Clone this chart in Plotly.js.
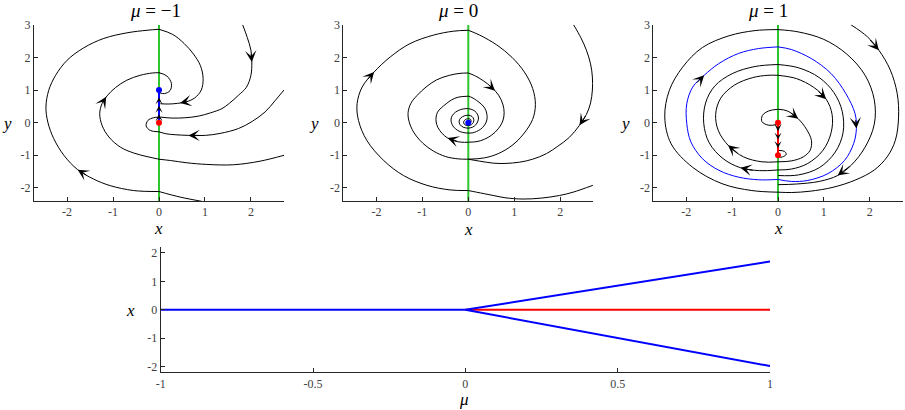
<!DOCTYPE html>
<html>
<head>
<meta charset="utf-8">
<script src="https://cdn.plot.ly/plotly-3.0.1.min.js"></script>
<style>
  html, body { margin: 0; padding: 0; background: #fff; }
  #chart { width: 905px; height: 410px; }
</style>
</head>
<body>
<div id="chart"></div>
<script>
// Phase portraits of the switched system for mu = -1, 0, 1 and the bifurcation diagram.
// Each arc is one piece of an orbit between two hits of the switching line x = 0.

// ---- mu = -1 ----
const m1OuterIn  = [[0.93,-2.41],[0.46,-2.28],[0,-2.11]];
const m1OuterL   = [[0,-2.11],[-0.55,-2.08],[-1.06,-1.93],[-1.42,-1.73],[-1.77,-1.44],[-2.07,-1.0],[-2.29,-0.49],[-2.42,0.02],[-2.46,0.48],[-2.40,0.99],[-2.25,1.45],[-2.0,1.91],[-1.64,2.29],[-1.20,2.58],[-0.70,2.75],[-0.26,2.83],[0,2.86]];
const m1OuterR   = [[0,2.86],[0.3,2.7],[0.55,2.42],[0.75,2.1],[0.9,1.75],[0.96,1.35],[0.92,1.0],[0.78,0.76],[0.6,0.64],[0.4,0.59],[0.2,0.57],[0.03,0.58]];
const m1MidIn    = [[2.72,-1.0],[2.20,-1.18],[1.62,-1.29],[1.04,-1.28],[0.61,-1.23],[0.25,-1.16],[0,-1.12]];
const m1MidL     = [[0,-1.12],[-0.26,-1.04],[-0.55,-0.93],[-0.84,-0.75],[-1.09,-0.44],[-1.24,-0.08],[-1.29,0.28],[-1.24,0.58],[-1.13,0.82],[-0.95,1.07],[-0.70,1.30],[-0.41,1.45],[-0.15,1.52],[0,1.53]];
const m1MidR     = [[0,1.53],[0.17,1.43],[0.27,1.2],[0.24,0.98],[0.12,0.89],[0.02,0.91]];
const m1TopIn    = [[1.82,3.0],[1.92,2.61],[2.0,2.22],[2.02,1.86],[2.0,1.45],[1.90,1.08],[1.73,0.84],[1.53,0.59],[1.37,0.43],[1.12,0.30],[0.86,0.20],[0.57,0.15],[0.28,0.14],[0.03,0.17]];
const m1SideIn   = [[2.72,1.0],[2.53,0.68],[2.31,0.33],[2.03,0.04],[1.73,-0.18],[1.33,-0.33],[1.01,-0.39],[0.64,-0.39],[0.35,-0.37],[0.15,-0.34],[0,-0.28]];
const m1SideL    = [[0,-0.28],[-0.19,-0.24],[-0.28,-0.1],[-0.24,0.07],[-0.12,0.15],[0,0.17]];
const m1Slide    = [[0,0],[0,1]];
const m1Arrows   = [
  [[-1.77,-1.44],[-1.55,-1.63]], [[0.46,0.60],[0.66,0.66]], [[-1.15,0.79],[-1.24,0.58]],
  [[2.02,1.86],[2.0,2.15]], [[0.64,-0.39],[0.9,-0.39]]
];
const m1SlideArrows = [[[0,0.26],[0,0.13]], [[0,0.52],[0,0.39]], [[0,0.78],[0,0.65]]];

// ---- mu = 0 ----
const m0TopIn = [[2.29,3.0],[2.45,2.6],[2.57,2.22],[2.66,1.8],[2.70,1.40],[2.70,1.0],[2.66,0.6],[2.57,0.25],[2.42,-0.08],[2.2,-0.45],[1.95,-0.72],[1.70,-0.95],[1.4,-1.12],[1.12,-1.21],[0.8,-1.25],[0.54,-1.24],[0.25,-1.18],[0,-1.12]];
const m0BotIn = [[2.71,-1.92],[2.28,-2.13],[1.99,-2.23],[1.6,-2.31],[1.19,-2.34],[0.8,-2.3],[0.54,-2.23],[0.18,-2.13],[0,-2.08]];
const m0L1 = [[0,-2.08],[-0.40,-2.06],[-0.90,-1.92],[-1.41,-1.62],[-1.84,-1.16],[-2.21,-0.54],[-2.39,0.07],[-2.42,0.58],[-2.31,1.09],[-2.05,1.55],[-1.70,2.01],[-1.27,2.42],[-0.76,2.68],[-0.33,2.80],[0,2.83]];
const m0R1 = [[0,2.83],[0.25,2.68],[0.62,2.38],[0.95,2.0],[1.22,1.55],[1.40,1.05],[1.46,0.55],[1.40,0.1],[1.2,-0.35],[0.95,-0.7],[0.65,-0.95],[0.35,-1.08],[0,-1.12]];
const m0L2 = [[0,-1.12],[-0.22,-1.11],[-0.49,-1.04],[-0.76,-0.87],[-0.99,-0.63],[-1.19,-0.29],[-1.29,0.04],[-1.31,0.31],[-1.25,0.59],[-1.11,0.84],[-0.92,1.09],[-0.69,1.31],[-0.41,1.45],[-0.18,1.51],[0,1.52]];
const m0R2 = [[0,1.52],[0.14,1.44],[0.33,1.28],[0.51,1.08],[0.66,0.84],[0.75,0.57],[0.78,0.3],[0.75,0.05],[0.65,-0.19],[0.51,-0.38],[0.35,-0.51],[0.19,-0.58],[0,-0.60]];
const m0L3 = [[0,-0.6],[-0.14,-0.6],[-0.3,-0.56],[-0.45,-0.47],[-0.57,-0.33],[-0.66,-0.15],[-0.70,0.02],[-0.70,0.17],[-0.67,0.32],[-0.59,0.45],[-0.48,0.58],[-0.36,0.7],[-0.22,0.78],[0,0.81]];
const m0R3 = [[0,0.81],[0.08,0.77],[0.18,0.68],[0.28,0.57],[0.36,0.44],[0.40,0.29],[0.41,0.15],[0.39,0.02],[0.34,-0.1],[0.27,-0.2],[0.18,-0.27],[0.1,-0.31],[0,-0.32]];
const m0L4 = [[0,-0.32],[-0.12,-0.3],[-0.23,-0.24],[-0.32,-0.13],[-0.37,0.01],[-0.37,0.15],[-0.32,0.27],[-0.22,0.37],[-0.11,0.42],[0,0.43]];
const m0R4 = [[0,0.43],[0.1,0.39],[0.18,0.3],[0.22,0.17],[0.21,0.05],[0.16,-0.07],[0.09,-0.14],[0,-0.17]];
const m0L5 = [[0,-0.17],[-0.11,-0.14],[-0.18,-0.06],[-0.20,0.05],[-0.16,0.15],[-0.08,0.21],[0,0.23]];
const m0R5 = [[0,0.23],[0.08,0.19],[0.12,0.1],[0.11,0.01],[0.07,-0.06],[0,-0.09]];
const m0L6 = [[0,-0.09],[-0.07,-0.07],[-0.1,-0.01],[-0.09,0.06],[-0.04,0.11],[0,0.12]];
const m0R6 = [[0,0.12],[0.05,0.1],[0.06,0.04],[0.04,-0.02],[0,-0.04]];
const m0Arrows = [
  [[-2.05,1.55],[-2.22,1.28]], [[0.58,0.98],[0.43,1.18]], [[2.42,-0.08],[2.57,0.25]], [[-0.45,-0.47],[-0.22,-0.58]]
];

// ---- mu = 1 ----
const m3CycleL = [[0,-1.74],[-0.42,-1.75],[-0.86,-1.67],[-1.29,-1.46],[-1.65,-1.10],[-1.90,-0.59],[-1.99,-0.03],[-1.99,0.58],[-1.86,1.09],[-1.61,1.45],[-1.29,1.81],[-0.86,2.12],[-0.42,2.27],[0,2.32]];
const m3CycleR = [[0,2.32],[0.29,2.24],[0.73,1.96],[1.16,1.50],[1.48,0.89],[1.68,0.28],[1.71,-0.18],[1.65,-0.64],[1.45,-1.16],[1.09,-1.56],[0.65,-1.77],[0.29,-1.80],[0,-1.74]];
const m3TopIn  = [[1.59,3.0],[1.95,2.63],[2.20,2.22],[2.45,1.61],[2.60,0.89],[2.63,0.17],[2.56,-0.54],[2.38,-1.05],[2.1,-1.45],[1.7,-1.75],[1.2,-1.98],[0.7,-2.1],[0.3,-2.14],[0,-2.13]];
const m3OuterL = [[0,-2.13],[-0.57,-2.08],[-1.22,-1.87],[-1.86,-1.37],[-2.33,-0.65],[-2.47,0.17],[-2.37,0.99],[-2.08,1.70],[-1.65,2.30],[-1.07,2.66],[-0.5,2.82],[0,2.85]];
const m3OuterR = [[0,2.85],[0.44,2.78],[1.0,2.55],[1.5,2.1],[1.9,1.45],[2.1,0.7],[2.1,-0.05],[1.9,-0.75],[1.6,-1.3],[1.3,-1.62],[0.9,-1.8],[0.4,-1.88],[0,-1.9]];
const m3In1 = [[0,-0.05],[-0.2,-0.08],[-0.35,0.03],[-0.34,0.22],[-0.2,0.36],[0,0.41]];
const m3In2 = [[0,0.41],[0.2,0.36],[0.44,0.12],[0.62,-0.2],[0.73,-0.55],[0.7,-0.85],[0.55,-1.05],[0.3,-1.17],[0,-1.2]];
const m3In3 = [[0,-1.2],[-0.35,-1.2],[-0.75,-1.05],[-1.07,-0.72],[-1.3,-0.25],[-1.36,0.25],[-1.25,0.75],[-0.95,1.15],[-0.55,1.38],[-0.22,1.45],[0,1.45]];
const m3In4 = [[0,1.45],[0.4,1.35],[0.78,1.08],[1.05,0.72],[1.18,0.25],[1.16,-0.3],[0.98,-0.85],[0.65,-1.25],[0.3,-1.42],[0,-1.45]];
const m3In5 = [[0,-1.45],[-0.4,-1.47],[-0.82,-1.38],[-1.2,-1.1],[-1.5,-0.62],[-1.62,-0.02],[-1.58,0.6],[-1.38,1.12],[-1.0,1.5],[-0.5,1.72],[0,1.78]];
const m3In6 = [[0,1.78],[0.45,1.68],[0.9,1.38],[1.22,0.92],[1.4,0.35],[1.42,-0.3],[1.25,-0.9],[0.9,-1.38],[0.45,-1.6],[0,-1.62]];
const m3Hook = [[0,-0.85],[0.14,-0.88],[0.18,-0.97],[0.1,-1.05],[0,-1.06]];
const m3Slide = [[0,0],[0,-1]];
const m3Arrows = [
  [[2.20,2.22],[1.98,2.58]], [[-1.61,1.45],[-1.80,1.18]], [[1.71,-0.18],[1.69,0.12]],
  [[0.44,0.12],[0.25,0.33]], [[1.05,0.72],[0.85,1.0]], [[-0.82,-1.38],[-0.52,-1.47]],
  [[-1.09,-0.69],[-0.85,-0.97]], [[1.3,-1.62],[1.6,-1.3]]
];
const m3SlideArrows = [[[0,-0.26],[0,-0.13]], [[0,-0.52],[0,-0.39]], [[0,-0.78],[0,-0.65]]];

// ---- bifurcation diagram ----
const muLeft   = [-1, 0];
const xLeft    = [0, 0];
const muRight  = [0, 1];
const xMiddle  = [0, 0];
const xUpper   = [0, 1.70];
const xLower   = [0, -1.98];

const GREEN = '#2ec52e', BLUE = '#0000ff', RED = '#ff0000';
const SERIF = 'Liberation Serif';

const traces = [];
function arc(pts, n, color, width) {
  traces.push({
    x: pts.map(p => p[0]), y: pts.map(p => p[1]),
    xaxis: 'x' + (n === 1 ? '' : n), yaxis: 'y' + (n === 1 ? '' : n),
    type: 'scatter', mode: 'lines',
    line: { color: color || '#000', width: width || 1, shape: 'spline', smoothing: 1 },
    hoverinfo: 'skip', showlegend: false
  });
}
function dots(pts, n, color) {
  traces.push({
    x: pts.map(p => p[0]), y: pts.map(p => p[1]),
    xaxis: 'x' + (n === 1 ? '' : n), yaxis: 'y' + (n === 1 ? '' : n),
    type: 'scatter', mode: 'markers',
    marker: { color: color, size: 6 },
    hoverinfo: 'skip', showlegend: false
  });
}
function switchLine(n) {
  traces.push({
    x: [0, 0], y: [-2.4, 3.0],
    xaxis: 'x' + (n === 1 ? '' : n), yaxis: 'y' + (n === 1 ? '' : n),
    type: 'scatter', mode: 'lines', line: { color: GREEN, width: 2 },
    hoverinfo: 'skip', showlegend: false
  });
}

// mu = -1
switchLine(1);
[m1OuterIn, m1OuterL, m1OuterR, m1MidIn, m1MidL, m1MidR, m1TopIn, m1SideIn, m1SideL].forEach(a => arc(a, 1));
arc(m1Slide, 1, BLUE, 2);
dots([m1Slide[1]], 1, BLUE);
dots([m1Slide[0]], 1, RED);

// mu = 0
switchLine(2);
[m0TopIn, m0BotIn, m0L1, m0R1, m0L2, m0R2, m0L3, m0R3, m0L4, m0R4, m0L5, m0R5, m0L6, m0R6].forEach(a => arc(a, 2));
dots([[0, 0]], 2, BLUE);

// mu = 1
switchLine(3);
[m3TopIn, m3OuterL, m3OuterR, m3In1, m3In2, m3In3, m3In4, m3In5, m3In6, m3Hook].forEach(a => arc(a, 3));
arc(m3CycleL, 3, BLUE, 1);
arc(m3CycleR, 3, BLUE, 1);
arc(m3Slide, 3, RED, 2);
dots(m3Slide, 3, RED);

// bifurcation
const bif = (x, y, c) => traces.push({ x, y, xaxis: 'x4', yaxis: 'y4', type: 'scatter', mode: 'lines',
  line: { color: c, width: 2 }, hoverinfo: 'skip', showlegend: false });
bif(muRight, xMiddle, RED);
bif(muLeft, xLeft, BLUE);
bif(muRight, xUpper, BLUE);
bif(muRight, xLower, BLUE);

function axis(domain, range, vals) {
  return {
    domain, range, showline: true, linecolor: '#262626', linewidth: 1,
    ticks: 'inside', ticklen: 4, tickwidth: 1, tickcolor: '#262626',
    showgrid: false, zeroline: false, fixedrange: true,
    tickvals: vals, ticktext: vals.map(v => String(v)),
    tickfont: { family: SERIF, size: 12, color: '#404040' }
  };
}

const W = 905, H = 410;
const px = v => v / W, py = v => 1 - v / H;
const topY = [py(201), py(24.7)];
const xr = [-2.72, 2.72], yr = [-2.4, 3.0];
const xv = [-2, -1, 0, 1, 2], yv = [-2, -1, 0, 1, 2, 3];

const layout = {
  width: W, height: H, margin: { l: 0, r: 0, t: 0, b: 0 },
  paper_bgcolor: '#fff', plot_bgcolor: '#fff', showlegend: false,
  font: { family: SERIF },
  xaxis:  Object.assign(axis([px(34), px(284)], xr, xv), { anchor: 'y' }),
  yaxis:  Object.assign(axis(topY, yr, yv), { anchor: 'x' }),
  xaxis2: Object.assign(axis([px(343.3), px(593.3)], xr, xv), { anchor: 'y2' }),
  yaxis2: Object.assign(axis(topY, yr, yv), { anchor: 'x2' }),
  xaxis3: Object.assign(axis([px(653.3), px(902.7)], xr, xv), { anchor: 'y3' }),
  yaxis3: Object.assign(axis(topY, yr, yv), { anchor: 'x3' }),
  xaxis4: Object.assign(axis([px(160.7), px(770)], [-1, 1], [-1, -0.5, 0, 0.5, 1]), { anchor: 'y4' }),
  yaxis4: Object.assign(axis([py(372.3), py(247.3)], [-2.2, 2.2], [-2, -1, 0, 1, 2]), { anchor: 'x4' }),
  annotations: []
};

function label(text, x, y, size) {
  layout.annotations.push({
    text, x: px(x), y: py(y), xref: 'paper', yref: 'paper',
    xanchor: 'center', yanchor: 'middle', showarrow: false,
    font: { family: SERIF, size: size || 17, color: '#000' }
  });
}
label('<i>μ</i> = −1', 155.8, 10, 19);
label('<i>μ</i> = 0', 458.3, 10, 19);
label('<i>μ</i> = 1', 767.5, 10, 19);
label('<i>x</i>', 158.7, 228);
label('<i>x</i>', 468.3, 229);
label('<i>x</i>', 778, 228);
label('<i>y</i>', 7, 123);
label('<i>y</i>', 313.5, 123);
label('<i>y</i>', 625, 123);
label('<i>x</i>', 130, 310);
label('<i>μ</i>', 464, 399);

function arrows(list, n, size) {
  const xa = 'x' + (n === 1 ? '' : n), ya = 'y' + (n === 1 ? '' : n);
  list.forEach(a => layout.annotations.push({
    x: a[0][0], y: a[0][1], ax: a[1][0], ay: a[1][1],
    xref: xa, yref: ya, axref: xa, ayref: ya, text: '',
    showarrow: true, arrowhead: 3, arrowsize: size, arrowwidth: 1, arrowcolor: '#000'
  }));
}
arrows(m1Arrows, 1, 1.9);
arrows(m1SlideArrows, 1, 1.2);
arrows(m0Arrows, 2, 1.9);
arrows(m3Arrows, 3, 1.9);
arrows(m3SlideArrows, 3, 1.2);

Plotly.newPlot('chart', traces, layout, { displayModeBar: false, staticPlot: true });
</script>
</body>
</html>
